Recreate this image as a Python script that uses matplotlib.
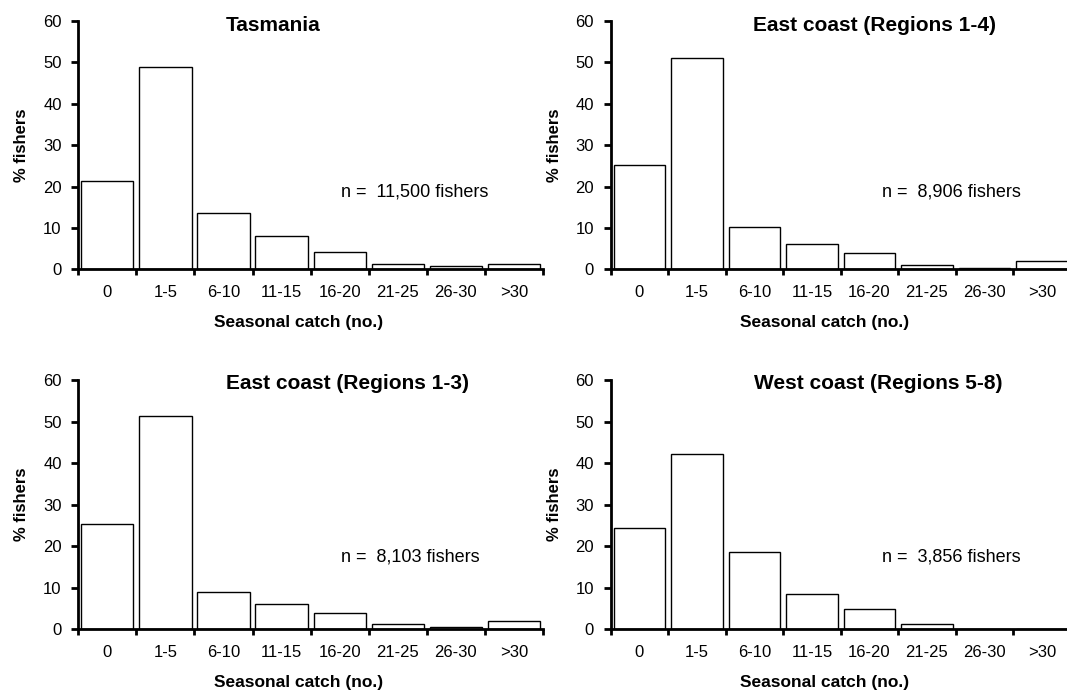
import matplotlib
matplotlib.use("Agg")
import matplotlib.pyplot as plt
import numpy as np

plt.rcParams['font.family'] = ['Liberation Sans', 'DejaVu Sans']

categories = ["0", "1-5", "6-10", "11-15", "16-20", "21-25", "26-30", ">30"]
tasmania = [21.3, 48.9, 13.7, 8.0, 4.2, 1.3, 0.7, 1.3]
east_1_4 = [25.2, 51.1, 10.2, 6.1, 3.9, 1.0, 0.4, 1.9]
east_1_3 = [25.4, 51.4, 8.9, 6.0, 3.9, 1.3, 0.5, 1.9]
west_5_8 = [24.5, 42.2, 18.5, 8.6, 4.8, 1.3, 0.0, 0.0]
titles = ["Tasmania", "East coast (Regions 1-4)", "East coast (Regions 1-3)", "West coast (Regions 5-8)"]
n_texts = ["n =  11,500 fishers", "n =  8,906 fishers", "n =  8,103 fishers", "n =  3,856 fishers"]
yticks = [0, 10, 20, 30, 40, 50, 60]

series = [tasmania, east_1_4, east_1_3, west_5_8]
W, H = 1067, 693
fig = plt.figure(figsize=(W / 100, H / 100), dpi=100)

# (left, right, top_px, bottom_px)
boxes = [(78.3, 543, 21, 269.3), (610.7, 1070.7, 21, 269.3),
         (78.3, 543, 380, 629.3), (610.7, 1070.7, 380, 629.3)]
title_x = [0.42, 0.574, 0.58, 0.581]
title_y = [59.0, 59.0, 59.2, 59.2]
n_x = [0.565, 0.589, 0.565, 0.589]
n_y = [18.75, 18.75, 17.3, 17.3]
xlabel_x = [0.474, 0.466, 0.474, 0.466]

x = np.arange(len(categories))
for i, (l, r, t, b) in enumerate(boxes):
    ax = fig.add_axes([l / W, 1 - b / H, (r - l) / W, (b - t) / H])
    ax.bar(x, series[i], width=0.9, color="white", edgecolor="black", linewidth=1.0, zorder=2)
    ax.set_xlim(-0.5, len(categories) - 0.5)
    ax.set_ylim(0, 60)
    ax.set_yticks(yticks)
    ax.set_xticks(np.arange(len(categories) + 1) - 0.5)
    ax.set_xticklabels([])
    ax.set_xticks(x, minor=True)
    ax.set_xticklabels(categories, minor=True, fontsize=12)
    ax.tick_params(axis='x', which='major', length=4, width=2, direction='out')
    ax.tick_params(axis='x', which='minor', length=0, pad=11)
    ax.tick_params(axis='y', length=5, width=2, direction='out', labelsize=12, pad=7)
    for s in ['top', 'right']:
        ax.spines[s].set_visible(False)
    for s in ['left', 'bottom']:
        ax.spines[s].set_linewidth(2)
        ax.spines[s].set_zorder(3)
    ax.set_ylabel("% fishers", fontsize=12, fontweight='bold', labelpad=10)
    ax.set_xlabel("Seasonal catch (no.)", fontsize=12.5, fontweight='bold')
    ax.xaxis.set_label_coords(xlabel_x[i], -0.184)
    ax.text(title_x[i], title_y[i], titles[i], transform=ax.get_yaxis_transform(),
            ha='center', va='center', fontsize=15, fontweight='bold')
    ax.text(n_x[i], n_y[i], n_texts[i], transform=ax.get_yaxis_transform(),
            ha='left', va='center', fontsize=13)

fig.savefig("out.png", dpi=100)
